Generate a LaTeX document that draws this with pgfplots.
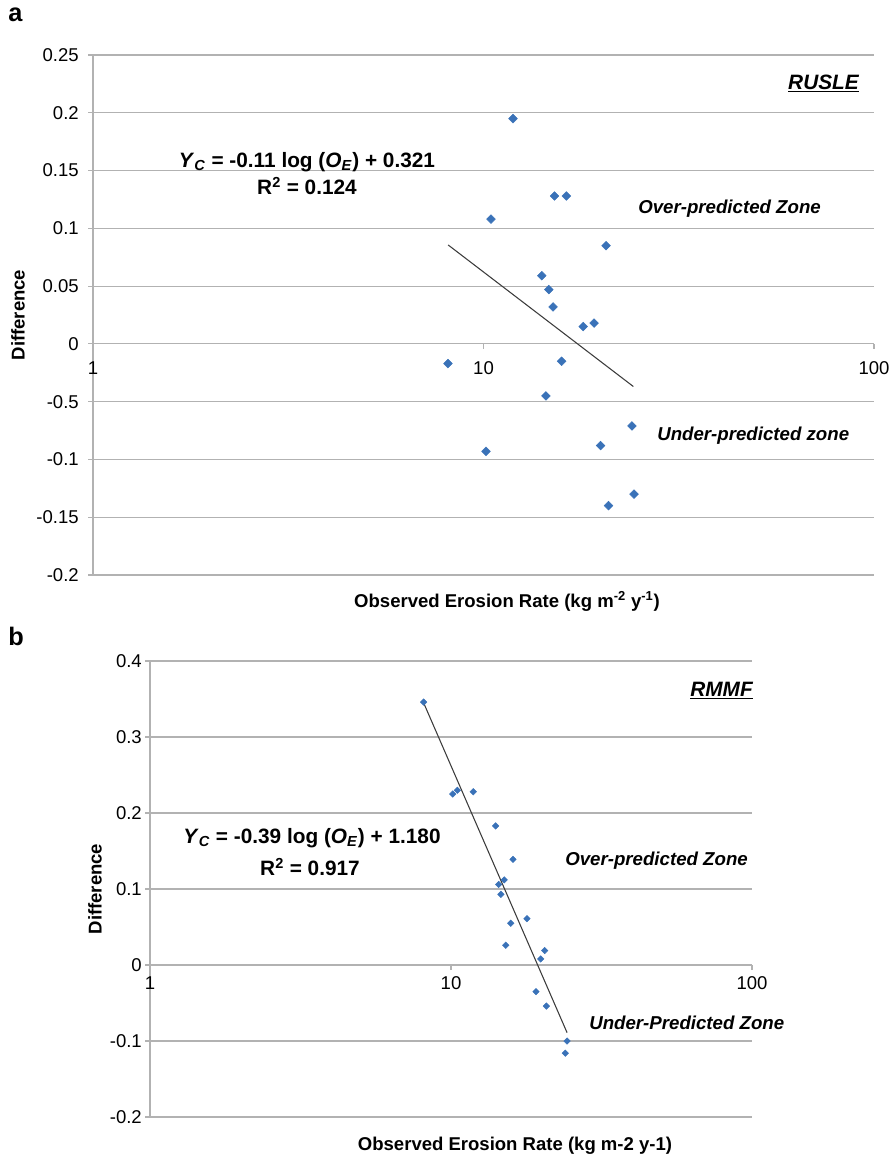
\documentclass[border=0pt]{standalone}
\usepackage{fontspec}
\setmainfont{Liberation Sans}
\setsansfont{Liberation Sans}
\usepackage{pgfplots}
\usepackage{pgfplotstable}
\pgfplotsset{compat=1.18}

\definecolor{pt}{RGB}{58,114,184}
\definecolor{gridc}{RGB}{178,178,178}
\definecolor{trend}{RGB}{60,60,60}

\newcommand\fT{\fontsize{13.9}{16}\selectfont}
\newcommand\fL{\bfseries\fontsize{13.9}{16}\selectfont}
\newcommand\fE{\bfseries\fontsize{15.6}{18}\selectfont}
\newcommand\fZ{\bfseries\itshape\fontsize{14}{16}\selectfont}
\newcommand\fP{\bfseries\fontsize{19}{22}\selectfont}

% RUSLE: observed erosion rate vs difference
\pgfplotstableread{
x      y
11.9   0.195
15.2   0.128
16.3   0.128
10.45  0.108
20.6   0.085
14.1   0.059
14.7   0.047
15.07  0.032
18.0   0.015
19.2   0.018
15.85  -0.015
8.11   -0.017
14.45  -0.045
24.0   -0.071
19.95  -0.088
10.15  -0.093
24.3   -0.130
20.9   -0.140
}\rusle

% RMMF
\pgfplotstableread{
x      y
8.11   0.346
10.13  0.225
10.5   0.230
11.86  0.228
14.07  0.183
16.07  0.139
14.4   0.106
15.03  0.112
14.65  0.093
15.79  0.055
17.88  0.061
15.2   0.026
20.48  0.019
19.86  0.008
19.16  -0.035
20.74  -0.054
24.3   -0.100
23.97  -0.116
}\rmmf

\pgfplotsset{
  erosionaxis/.style={
    scale only axis,
    xmin=1, xmax=100,
    xtick={1,10,100}, xticklabels={1,10,100},
    xminorticks=false,
    axis x line*=middle, axis y line*=left,
    hide obscured x ticks=false, hide obscured y ticks=false,
    axis line style={gridc, line width=0.9pt},
    ymajorgrids, grid style={gridc, line width=0.9pt},
    tick style={gridc, line width=0.9pt},
    major tick length=3.75pt,
    tick align=outside,
    tick label style={font=\fT, text=black, inner sep=0pt},
    yticklabel style={anchor=east},
    clip=false,
  }
}

\begin{document}
\begin{tikzpicture}
\path[use as bounding box] (0,0) rectangle (670.5pt,-867.75pt);

% panel a
\begin{semilogxaxis}[erosionaxis,
  at={(69.75pt,-431.25pt)}, anchor=south west,
  width=585.75pt, height=390pt,
  ymin=-0.2, ymax=0.25,
  ytick={-0.2,-0.15,-0.1,-0.05,0,0.05,0.1,0.15,0.2,0.25},
  yticklabels={-0.2,-0.15,-0.1,-0.5,0,0.05,0.1,0.15,0.2,0.25},
  xticklabel style={anchor=center, yshift=-14.5pt},
  yticklabel style={xshift=-6.75pt},
]
\addplot[only marks, mark=square*, mark size=2.3pt, mark options={rotate=45, fill=pt, draw=pt}] table[x=x, y=y] {\rusle};
\addplot[trend, line width=0.8pt, no marks] coordinates {(8.12,0.0856) (24.2,-0.0369)};
\end{semilogxaxis}

% panel b
\begin{semilogxaxis}[erosionaxis,
  at={(112.5pt,-837.75pt)}, anchor=south west,
  width=451.5pt, height=342pt,
  ymin=-0.2, ymax=0.4,
  ytick={-0.2,-0.1,0,0.1,0.2,0.3,0.4},
  yticklabels={-0.2,-0.1,0,0.1,0.2,0.3,0.4},
  xticklabel style={anchor=center, yshift=-10pt},
  yticklabel style={xshift=-2.25pt},
]
\addplot[only marks, mark=square*, mark size=1.7pt, mark options={rotate=45, fill=pt, draw=pt}] table[x=x, y=y] {\rmmf};
\addplot[trend, line width=0.8pt, no marks] coordinates {(8.11,0.345) (24.3,-0.089)};
\end{semilogxaxis}

\begin{scope}[x=0.75pt, y=-0.75pt, every node/.style={inner sep=0pt}]
  % panel a text
  \node[font=\fP, anchor=base west] at (8,21) {a};
  \node[font=\fL, rotate=90] at (18,315) {Difference};
  \node[font=\fL, anchor=base] at (507,607) {Observed Erosion Rate (kg m\textsuperscript{-2} y\textsuperscript{-1})};
  \node[font=\fE, anchor=base] at (307,167) {\textit{Y}\textsubscript{\textit{C}} = -0.11 log (\textit{O}\textsubscript{\textit{E}}) + 0.321};
  \node[font=\fE, anchor=base] at (307,194) {R\textsuperscript{2} = 0.124};
  \node[font=\fE\itshape, anchor=base east] at (859,89) {\underline{RUSLE}};
  \node[font=\fZ, anchor=base west] at (638,213) {Over-predicted Zone};
  \node[font=\fZ, anchor=base west] at (657,440) {Under-predicted zone};
  % panel b text
  \node[font=\fP, anchor=base west] at (8,645) {b};
  \node[font=\fL, rotate=90] at (95,889) {Difference};
  \node[font=\fL, anchor=base] at (515,1150) {Observed Erosion Rate (kg m-2 y-1)};
  \node[font=\fE, anchor=base] at (312,843) {\textit{Y}\textsubscript{\textit{C}} = -0.39 log (\textit{O}\textsubscript{\textit{E}}) + 1.180};
  \node[font=\fE, anchor=base] at (310,875) {R\textsuperscript{2} = 0.917};
  \node[font=\fE\itshape, anchor=base east] at (753,696) {\underline{RMMF}};
  \node[font=\fZ, anchor=base west] at (565,865) {Over-predicted Zone};
  \node[font=\fZ, anchor=base west] at (589,1029) {Under-Predicted Zone};
\end{scope}
\end{tikzpicture}
\end{document}
